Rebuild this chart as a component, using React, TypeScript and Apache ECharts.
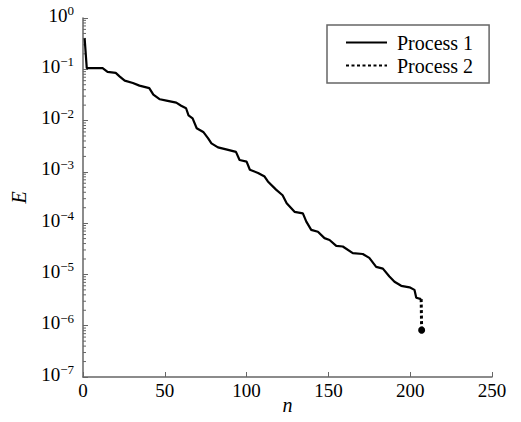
import React, { useEffect, useRef } from "react";
import * as echarts from "echarts";

const FONT = "Times New Roman, Liberation Serif, serif";

// Process 1: [n, E]
const process1N = [1, 2.3, 12, 15, 20, 22.5, 25.5, 30.5, 34.5, 40.5, 43, 47, 51, 57, 60, 63, 64.5, 67, 69.5, 73.5, 76.5, 78.5, 82.5, 87.5, 93.5, 95.7, 100, 102, 107, 111, 113, 118, 122, 124.5, 129.3, 134.4, 136.5, 139.5, 143.6, 147.6, 150.7, 154.8, 158.8, 164.9, 171, 175, 179.2, 183.3, 187.3, 190.4, 194.5, 199.6, 202.6, 203.7, 206.7];
const process1E = [0.40, 0.105, 0.105, 0.089, 0.085, 0.072, 0.060, 0.054, 0.048, 0.043, 0.032, 0.026, 0.0245, 0.0224, 0.0195, 0.0174, 0.0126, 0.011, 0.0071, 0.006, 0.0045, 0.0036, 0.0030, 0.00275, 0.00245, 0.0017, 0.00158, 0.0011, 0.00095, 0.00081, 0.00065, 0.00045, 0.00035, 0.000245, 0.000166, 0.000155, 0.000107, 7.4e-5, 6.8e-5, 5.1e-5, 4.7e-5, 3.6e-5, 3.5e-5, 2.6e-5, 2.5e-5, 2.1e-5, 1.4e-5, 1.3e-5, 9.1e-6, 7.2e-6, 6.0e-6, 5.6e-6, 5.0e-6, 3.5e-6, 3.3e-6];

// Process 2: [n, E]
const process2N = [206.7, 207];
const process2E = [3.3e-6, 8.2e-7];

// Axis ticks
const xTicks = [0, 50, 100, 150, 200, 250];
const decades = [1e-7, 1e-6, 1e-5, 1e-4, 1e-3, 1e-2, 1e-1];
const minorMultipliers = [2, 3, 4, 5, 6, 7, 8, 9];

const AXIS_COLOR = "#666";

export default function App() {
  const ref = useRef<HTMLDivElement>(null);

  useEffect(() => {
    if (!ref.current) return;
    const chart = echarts.init(ref.current, null, { renderer: "svg" });

    const p1 = process1N.map((n, i) => [n, process1E[i]]);
    const p2: any[] = process2N.map((n, i) => [n, process2E[i]]);
    p2[p2.length - 1] = {
      value: p2[p2.length - 1],
      symbol: "circle",
      symbolSize: 7,
    };

    const minorTicks: number[][] = [];
    decades.forEach((d) => minorMultipliers.forEach((m) => minorTicks.push([0, d * m])));

    chart.setOption({
      animation: false,
      backgroundColor: "#fff",
      textStyle: { fontFamily: FONT },
      grid: { left: 83, right: 29, top: 18, bottom: 45, containLabel: false, outerBoundsMode: "none" },
      legend: {
        data: ["Process 1", "Process 2"],
        orient: "vertical",
        left: 327,
        top: 25,
        padding: [6, 16, 6, 18],
        itemWidth: 41,
        itemHeight: 12,
        itemGap: 0,
        borderColor: AXIS_COLOR,
        borderWidth: 1.5,
        itemStyle: { opacity: 0 },
        textStyle: { fontFamily: FONT, fontSize: 20, color: "#000", lineHeight: 23, padding: [0, 0, 0, 5] },
      },
      xAxis: {
        type: "value",
        min: 0,
        max: 250,
        interval: 50,
        name: "n",
        nameLocation: "middle",
        nameGap: 18,
        nameMoveOverlap: false,
        nameTextStyle: { fontFamily: FONT, fontSize: 20, fontStyle: "italic", color: "#000" },
        axisLine: { show: true, lineStyle: { color: AXIS_COLOR, width: 1.5 } },
        axisTick: { show: true, inside: true, length: 5, lineStyle: { color: AXIS_COLOR, width: 1 } },
        axisLabel: { fontFamily: FONT, fontSize: 19, color: "#000", margin: 4 },
        splitLine: { show: false },
      },
      yAxis: {
        type: "log",
        logBase: 10,
        min: 1e-7,
        max: 1,
        name: "E",
        nameLocation: "middle",
        nameGap: 54,
        nameRotate: 90,
        nameMoveOverlap: false,
        nameTextStyle: { fontFamily: FONT, fontSize: 20, fontStyle: "italic", color: "#000" },
        axisLine: { show: true, lineStyle: { color: AXIS_COLOR, width: 1.5 } },
        axisTick: { show: true, inside: true, length: 5, lineStyle: { color: AXIS_COLOR, width: 1 } },
        axisLabel: {
          margin: 9,
          color: "#000",
          fontFamily: FONT,
          padding: [0, 0, 6, 0],
          formatter: (v: number) => {
            const e = Math.round(Math.log10(v));
            const s = e === 0 ? "0" : "\u2212" + -e;
            return "{b|10}{s|" + s + "}";
          },
          rich: {
            b: { fontFamily: FONT, fontSize: 19, lineHeight: 22, color: "#000" },
            s: { fontFamily: FONT, fontSize: 13, lineHeight: 14, verticalAlign: "top", color: "#000" },
          },
        },
        splitLine: { show: false },
      },
      series: [
        {
          name: "Process 1",
          type: "line",
          data: p1,
          symbol: "none",
          lineStyle: { color: "#000", width: 2.2 },
          itemStyle: { color: "#000" },
        },
        {
          name: "Process 2",
          type: "line",
          data: p2,
          symbol: "none",
          showSymbol: true,
          lineStyle: { color: "#000", width: 3, type: [3, 2.5] },
          itemStyle: { color: "#000" },
        },
        {
          name: "minorTicks",
          type: "custom",
          silent: true,
          data: minorTicks,
          renderItem: (params: any, api: any) => {
            const p = api.coord([0, api.value(1)]);
            return {
              type: "line",
              shape: { x1: p[0], y1: p[1], x2: p[0] + 3, y2: p[1] },
              style: { stroke: AXIS_COLOR, lineWidth: 1 },
            };
          },
        },
      ],
    });

    return () => chart.dispose();
  }, []);

  return (
    <div
      ref={ref}
      style={{ position: "fixed", left: 0, top: 0, width: 521, height: 422, background: "#fff" }}
    />
  );
}
